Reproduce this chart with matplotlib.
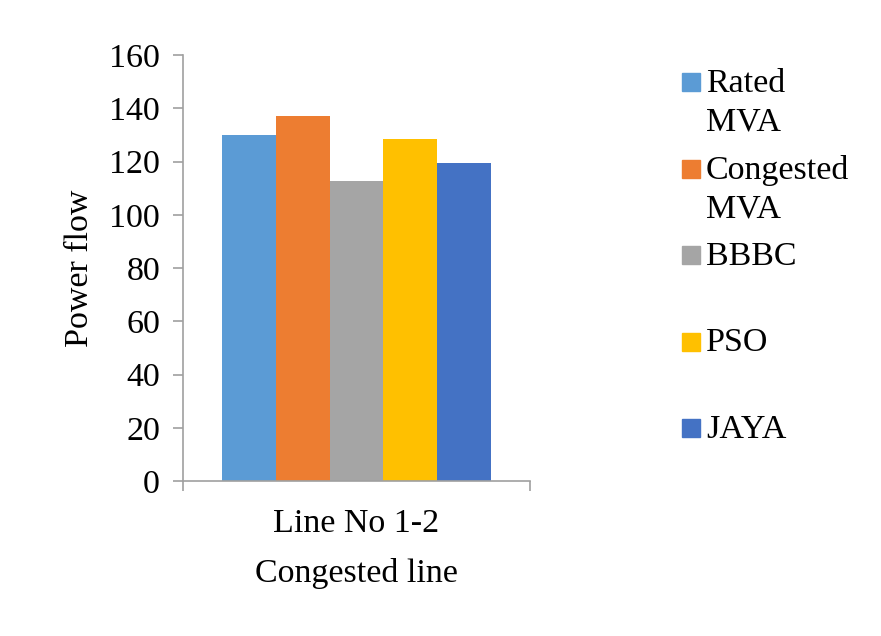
import matplotlib.pyplot as plt
from matplotlib.patches import Rectangle

# power flow on the congested line 1-2
category = "Line No 1-2"
series = ["Rated\nMVA", "Congested\nMVA", "BBBC", "PSO", "JAYA"]
values = [130, 137, 112.5, 128.3, 119.6]
colors = ["#5B9BD5", "#ED7D31", "#A5A5A5", "#FFC000", "#4472C4"]
yticks = [0, 20, 40, 60, 80, 100, 120, 140, 160]

plt.rcParams['font.family'] = ['Liberation Serif', 'DejaVu Serif']
axis_grey = "#a0a0a0"
fs = 24.5

fig = plt.figure(figsize=(8.81, 6.36), dpi=100)
ax = fig.add_axes([0.2077, 0.2437, 0.3939, 0.6698])

width = 0.1545
n = len(series)
for i, (name, v, c) in enumerate(zip(series, values, colors)):
    ax.bar((i - (n - 1) / 2) * width, v, width=width, color=c, label=name)

ax.set_xlim(-0.5, 0.5)
ax.set_ylim(0, 160)
ax.set_yticks(yticks)
ax.tick_params(axis='y', labelsize=fs, length=7, width=1.2, color=axis_grey, pad=9.5)

# category boundaries as ticks, label in the middle
ax.set_xticks([-0.5, 0.5])
ax.set_xticklabels([])
ax.set_xticks([0], minor=True)
ax.set_xticklabels([category], minor=True)
ax.tick_params(axis='x', which='major', length=7, width=1.2, color=axis_grey)
ax.tick_params(axis='x', which='minor', length=0, labelsize=fs, pad=20)

for side in ['top', 'right']:
    ax.spines[side].set_visible(False)
for side in ['left', 'bottom']:
    ax.spines[side].set_color(axis_grey)
    ax.spines[side].set_linewidth(1.2)

ax.set_ylabel("Power flow", fontsize=fs, labelpad=10)
ax.set_xlabel("Congested line", fontsize=fs, labelpad=13.5)

# legend on the right, square aligned with first line of each label
W, H = 881, 636
for i, (name, c) in enumerate(zip(series, colors)):
    yc = 82 + i * 86.5
    fig.patches.append(Rectangle((682 / W, 1 - (yc + 9) / H), 18 / W, 18 / H,
                                 color=c, transform=fig.transFigure))
    fig.text(706 / W, 1 - (yc - 14) / H, name, fontsize=fs, va='top',
             ha='left', linespacing=1.35)

fig.savefig("out.png", dpi=100)
